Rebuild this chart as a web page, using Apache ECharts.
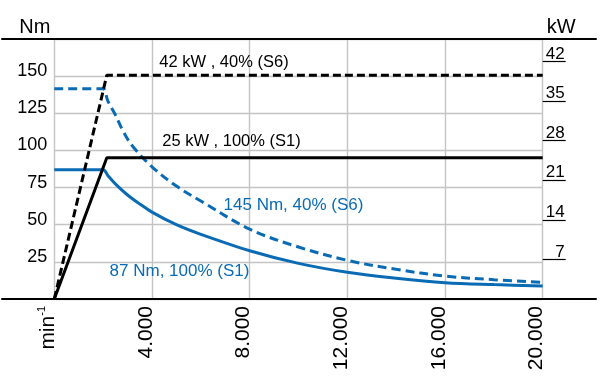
<!DOCTYPE html>
<html><head><meta charset="utf-8">
<script src="https://cdn.jsdelivr.net/npm/echarts@6/dist/echarts.min.js"></script>
<style>html,body{margin:0;padding:0;background:#fff}#c{width:602px;height:377px}</style>
</head><body><div id="c"></div>
<script>
// ---- data ----
const rpmTicks = [0, 4000, 8000, 12000, 16000, 20000];
const nmTicks = [25, 50, 75, 100, 125, 150];
const kwTicks = [7, 14, 21, 28, 35, 42];

// torque 100% (S1), Nm
const s1TorqueRpm = [0, 1800, 2000, 2200, 2500, 3000, 3500, 4000, 5000, 6000, 8000, 10000, 12000, 14000, 16000, 18000, 20000];
const s1TorqueNm  = [87, 87, 87, 83, 77.5, 70, 64, 58.5, 50, 43.5, 32.5, 24, 18, 14, 11, 9.7, 8.8];
// torque 40% (S6), Nm
const s6TorqueRpm = [0, 1800, 2000, 2200, 2500, 2800, 3200, 4000, 5000, 6000, 8000, 10000, 12000, 14000, 16000, 18000, 20000];
const s6TorqueNm  = [141.5, 141.5, 141.5, 133, 124, 113.5, 103, 89, 76, 66, 47, 35, 26, 20, 15.4, 13, 11.2];
// power, kW
const powerRpm = [0, 2150, 20000];
const s1PowerKw = [0, 25, 25];
const s6PowerKw = [0, 39.6, 39.6];

const BLUE = '#0a6bb5';
const SANS = "'Liberation Sans',Arial,sans-serif";

const zip = (a, b) => a.map((x, i) => [x, b[i]]);
const fmtRpm = v => v === 0 ? '{m|min}{s|-1}' : (v / 1000).toFixed(3);

const chart = echarts.init(document.getElementById('c'), null, {renderer: 'canvas'});
chart.setOption({
  animation: false,
  backgroundColor: '#fff',
  textStyle: {fontFamily: SANS},
  grid: [
    {left: 54.3, right: 59.3, top: 39, bottom: 78, containLabel: false, outerBoundsMode: 'none'},
    {left: 2, right: 6, top: 39, bottom: 78, containLabel: false, outerBoundsMode: 'none'}
  ],
  xAxis: [
    {
      type: 'value', gridIndex: 0, min: 0, max: 20000, interval: 4000,
      axisLine: {show: false}, axisTick: {show: false},
      splitLine: {show: true, lineStyle: {color: '#c4c4c4', width: 1.4}},
      axisLabel: {
        rotate: 90, margin: 7, color: '#000', fontSize: 21, fontFamily: SANS,
        verticalAlign: 'bottom', lineHeight: 12,
        formatter: v => rpmTicks.includes(v) ? fmtRpm(v) : '',
        rich: {m: {fontSize: 21, fontFamily: SANS, color: '#000', lineHeight: 12},
               s: {fontSize: 11, fontFamily: SANS, color: '#000', lineHeight: 12, padding: [0, 0, 12, 0]}}
      }
    },
    {type: 'value', gridIndex: 1, position: 'bottom', min: 0, max: 1,
     axisLine: {show: true, lineStyle: {color: '#000', width: 2}},
     axisTick: {show: false}, axisLabel: {show: false}, splitLine: {show: false}},
    {type: 'value', gridIndex: 1, position: 'top', min: 0, max: 1,
     axisLine: {show: true, lineStyle: {color: '#000', width: 2}},
     axisTick: {show: false}, axisLabel: {show: false}, splitLine: {show: false}}
  ],
  yAxis: [
    {
      type: 'value', gridIndex: 0, position: 'left', min: 0, max: 175, interval: 25,
      name: 'Nm', nameLocation: 'end', nameGap: 2,
      nameTextStyle: {color: '#000', fontSize: 20, fontFamily: SANS, align: 'right', padding: [0, 4, 0, 0]},
      axisLine: {show: false}, axisTick: {show: false},
      splitLine: {show: true, lineStyle: {color: '#c4c4c4', width: 1.4}},
      axisLabel: {margin: 7, color: '#000', fontSize: 18, fontFamily: SANS, verticalAlign: 'bottom', lineHeight: 10,
                  formatter: v => nmTicks.includes(v) ? String(v) : ''}
    },
    {
      type: 'value', gridIndex: 0, position: 'right', min: 0, max: 46, interval: 7,
      name: 'kW', nameLocation: 'end', nameGap: 2,
      nameTextStyle: {color: '#000', fontSize: 20, fontFamily: SANS, align: 'left', padding: [0, 0, 0, 4]},
      axisLine: {show: false},
      axisTick: {show: true, inside: false, length: 23, lineStyle: {color: '#000', width: 1.2}},
      splitLine: {show: false},
      axisLabel: {margin: 22, align: 'right', color: '#000', fontSize: 17, fontFamily: SANS,
                  verticalAlign: 'bottom', lineHeight: 15,
                  showMaxLabel: false, showMinLabel: false,
                  formatter: v => kwTicks.includes(v) ? String(v) : ''}
    },
    {type: 'value', gridIndex: 1, min: 0, max: 1, show: false}
  ],
  series: [
    {
      name: 'S1 torque', type: 'line', xAxisIndex: 0, yAxisIndex: 0, showSymbol: false, smooth: 0.35,
      data: zip(s1TorqueRpm, s1TorqueNm),
      lineStyle: {color: BLUE, width: 3}, itemStyle: {color: BLUE},
      markPoint: {symbol: 'circle', symbolSize: 0, silent: true,
        label: {show: true, position: 'inside', color: BLUE, fontSize: 17, fontFamily: SANS, formatter: p => p.name},
        data: [{name: '87 Nm, 100% (S1)', coord: [5127, 18.4]}]}
    },
    {
      name: 'S6 torque', type: 'line', xAxisIndex: 0, yAxisIndex: 0, showSymbol: false, smooth: 0.35,
      data: zip(s6TorqueRpm, s6TorqueNm),
      lineStyle: {color: BLUE, width: 3, type: [9, 5]}, itemStyle: {color: BLUE},
      markPoint: {symbol: 'circle', symbolSize: 0, silent: true,
        label: {show: true, position: 'inside', color: BLUE, fontSize: 17, fontFamily: SANS, formatter: p => p.name},
        data: [{name: '145 Nm, 40% (S6)', coord: [9795, 63.3]}]}
    },
    {
      name: 'S1 power', type: 'line', xAxisIndex: 0, yAxisIndex: 1, showSymbol: false,
      data: zip(powerRpm, s1PowerKw),
      lineStyle: {color: '#000', width: 3}, itemStyle: {color: '#000'},
      markPoint: {symbol: 'circle', symbolSize: 0, silent: true,
        label: {show: true, position: 'inside', color: '#000', fontSize: 16.5, fontFamily: SANS, formatter: p => p.name},
        data: [{name: '25 kW , 100% (S1)', coord: [7256, 27.8]}]}
    },
    {
      name: 'S6 power', type: 'line', xAxisIndex: 0, yAxisIndex: 1, showSymbol: false,
      data: zip(powerRpm, s6PowerKw),
      lineStyle: {color: '#000', width: 3, type: [8, 4]}, itemStyle: {color: '#000'},
      markPoint: {symbol: 'circle', symbolSize: 0, silent: true,
        label: {show: true, position: 'inside', color: '#000', fontSize: 16.5, fontFamily: SANS, formatter: p => p.name},
        data: [{name: '42 kW , 40% (S6)', coord: [6949, 41.9]}]}
    }
  ]
});
</script>
</body></html>
